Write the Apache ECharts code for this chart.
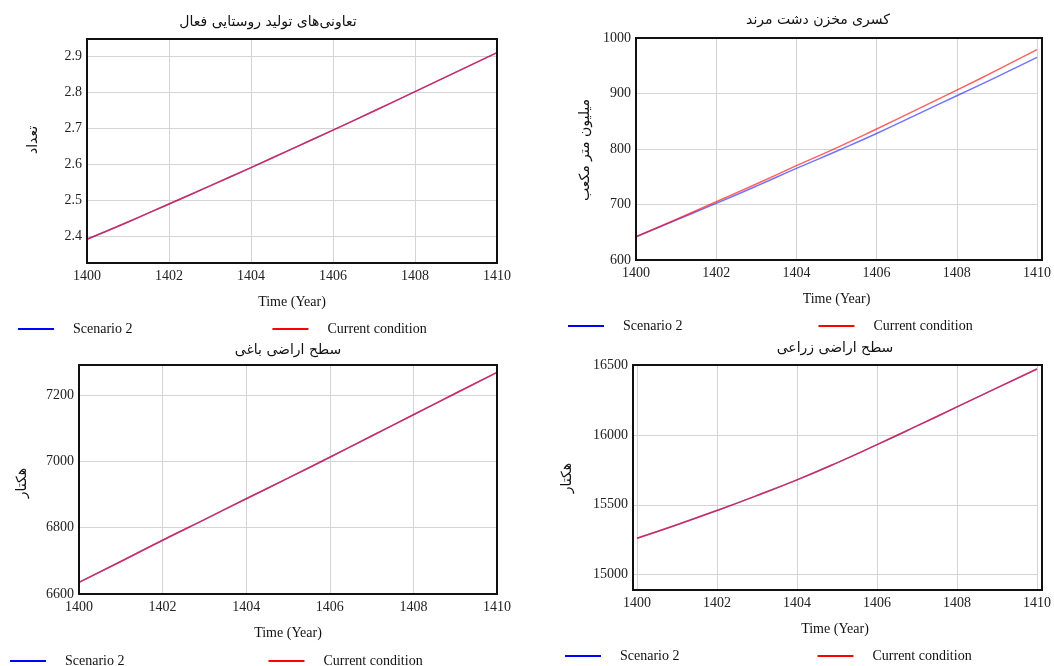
<!DOCTYPE html>
<html><head><meta charset="utf-8">
<script src="https://cdn.jsdelivr.net/npm/echarts@6/dist/echarts.min.js"></script>
<style>html,body{margin:0;padding:0;background:#fff}#c{width:1054px;height:666px}</style>
</head><body><div id="c"></div><script>
// ---- data ----
var years = [1400, 1401, 1402, 1403, 1404, 1405, 1406, 1407, 1408, 1409, 1410];
var xTicks = [1400, 1402, 1404, 1406, 1408, 1410];

var coopScenario2 = [2.391, 2.439, 2.489, 2.539, 2.590, 2.642, 2.694, 2.747, 2.801, 2.855, 2.909];
var coopCurrent   = [2.391, 2.439, 2.489, 2.539, 2.590, 2.642, 2.694, 2.747, 2.801, 2.855, 2.909];

var deficitScenario2 = [642, 672, 702, 733, 765, 796, 828, 862, 896, 930, 965];
var deficitCurrent   = [642, 673, 705, 737, 770, 802, 836, 871, 906, 942, 979];

var orchardScenario2 = [6635, 6698, 6762, 6824, 6887, 6949, 7012, 7076, 7140, 7204, 7268];
var orchardCurrent   = [6635, 6698, 6762, 6824, 6887, 6949, 7012, 7076, 7140, 7204, 7268];

var farmScenario2 = [15260, 15357, 15459, 15566, 15678, 15800, 15930, 16064, 16200, 16336, 16471];
var farmCurrent   = [15260, 15357, 15459, 15566, 15678, 15800, 15930, 16064, 16200, 16336, 16471];

var coopTicks = [2.4, 2.5, 2.6, 2.7, 2.8, 2.9];
var deficitTicks = [600, 700, 800, 900, 1000];
var orchardTicks = [6600, 6800, 7000, 7200];
var farmTicks = [15000, 15500, 16000, 16500];

var titles = ['تعاونی‌های تولید روستایی فعال', 'کسری مخزن دشت مرند', 'سطح اراضی باغی', 'سطح اراضی زراعی'];
var yNames = ['تعداد', 'میلیون متر مکعب', 'هکتار', 'هکتار'];
var xName = 'Time (Year)';
var seriesNames = ['Scenario 2', 'Current condition'];

// ---- layout ----
var SERIF = '"Liberation Serif", "Times New Roman", serif';
var ARABIC = '"DejaVu Sans", sans-serif';
var panels = [
  {grid:{left:87, top:39, width:410, height:224}, title:[268,22], yName:[33,140],
   legend:{left:18, top:322, gap:140}, x:{min:1400,max:1410},
   y:{min:2.325, max:2.947, ticks:coopTicks, fmt:function(v){return v.toFixed(1);}},
   s2:coopScenario2, cur:coopCurrent},
  {grid:{left:636, top:38, width:406, height:222}, title:[818,20], yName:[585,150],
   legend:{left:568, top:319, gap:136}, x:{min:1400,max:1410},
   y:{min:600, max:1000, ticks:deficitTicks}, s2:deficitScenario2, cur:deficitCurrent},
  {grid:{left:79, top:365, width:418, height:229}, title:[288,350], yName:[22,483],
   legend:{left:10, top:654, gap:144}, x:{min:1400,max:1410},
   y:{min:6600, max:7290, ticks:orchardTicks}, s2:orchardScenario2, cur:orchardCurrent},
  {grid:{left:633, top:365, width:409, height:225}, title:[835,348], yName:[567,478],
   legend:{left:565, top:649, gap:138}, x:{min:1399.9,max:1410},
   y:{min:14890, max:16500, ticks:farmTicks}, s2:farmScenario2, cur:farmCurrent}
];

var grids = [], xAxes = [], yAxes = [], series = [], legends = [], graphics = [];
panels.forEach(function(p, i){
  grids.push({left:p.grid.left, top:p.grid.top, width:p.grid.width, height:p.grid.height,
    show:false, containLabel:false});
  xAxes.push({type:'value', gridIndex:i, min:p.x.min, max:p.x.max,
    name:xName, nameLocation:'middle', nameGap:32,
    nameTextStyle:{fontFamily:SERIF, fontSize:14, color:'#111'},
    axisLine:{show:false}, axisTick:{show:false, customValues:xTicks},
    axisLabel:{customValues:xTicks, fontFamily:SERIF, fontSize:14, color:'#222', margin:6,
      formatter:function(v){return String(v);}},
    splitLine:{show:true, lineStyle:{color:'#d4d4d4', width:1}}});
  yAxes.push({type:'value', gridIndex:i, min:p.y.min, max:p.y.max,
    axisLine:{show:false}, axisTick:{show:false, customValues:p.y.ticks},
    axisLabel:{customValues:p.y.ticks, fontFamily:SERIF, fontSize:14, color:'#222', margin:5,
      formatter:p.y.fmt || function(v){return String(v);}},
    splitLine:{show:true, lineStyle:{color:'#d4d4d4', width:1}}});
  series.push({name:seriesNames[0], type:'line', xAxisIndex:i, yAxisIndex:i, smooth:true,
    symbol:'none', data:years.map(function(y,k){return [y, p.s2[k]];}),
    lineStyle:{color:'#0000ff', width:1.5, opacity:0.55}, itemStyle:{color:'#0000ff'}, z:3});
  series.push({name:seriesNames[1], type:'line', xAxisIndex:i, yAxisIndex:i, smooth:true,
    symbol:'none', data:years.map(function(y,k){return [y, p.cur[k]];}),
    lineStyle:{color:'#ff0000', width:1.5, opacity:0.62}, itemStyle:{color:'#ff0000'}, z:4});
  legends.push({data:seriesNames, left:p.legend.left, top:p.legend.top, padding:0,
    icon:'rect', itemWidth:36, itemHeight:2, itemGap:p.legend.gap, selectedMode:false,
    itemStyle:{opacity:1},
    textStyle:{fontFamily:SERIF, fontSize:14, color:'#111', padding:[0,0,0,14]}});
  graphics.push({type:'rect', z:100, silent:true,
    shape:{x:p.grid.left, y:p.grid.top, width:p.grid.width, height:p.grid.height},
    style:{fill:'none', stroke:'#111', lineWidth:2}});
  graphics.push({type:'text', x:p.title[0], y:p.title[1], style:{text:titles[i],
    font:'14px ' + ARABIC, fill:'#111', textAlign:'center', textVerticalAlign:'middle'}});
  graphics.push({type:'text', x:p.yName[0], y:p.yName[1], rotation:Math.PI/2, style:{text:yNames[i],
    font:'14px ' + ARABIC, fill:'#111', textAlign:'center', textVerticalAlign:'middle'}});
});

var chart = echarts.init(document.getElementById('c'));
chart.setOption({
  animation:false, backgroundColor:'#fff',
  grid:grids, xAxis:xAxes, yAxis:yAxes, series:series, legend:legends, graphic:graphics
});
</script></body></html>
